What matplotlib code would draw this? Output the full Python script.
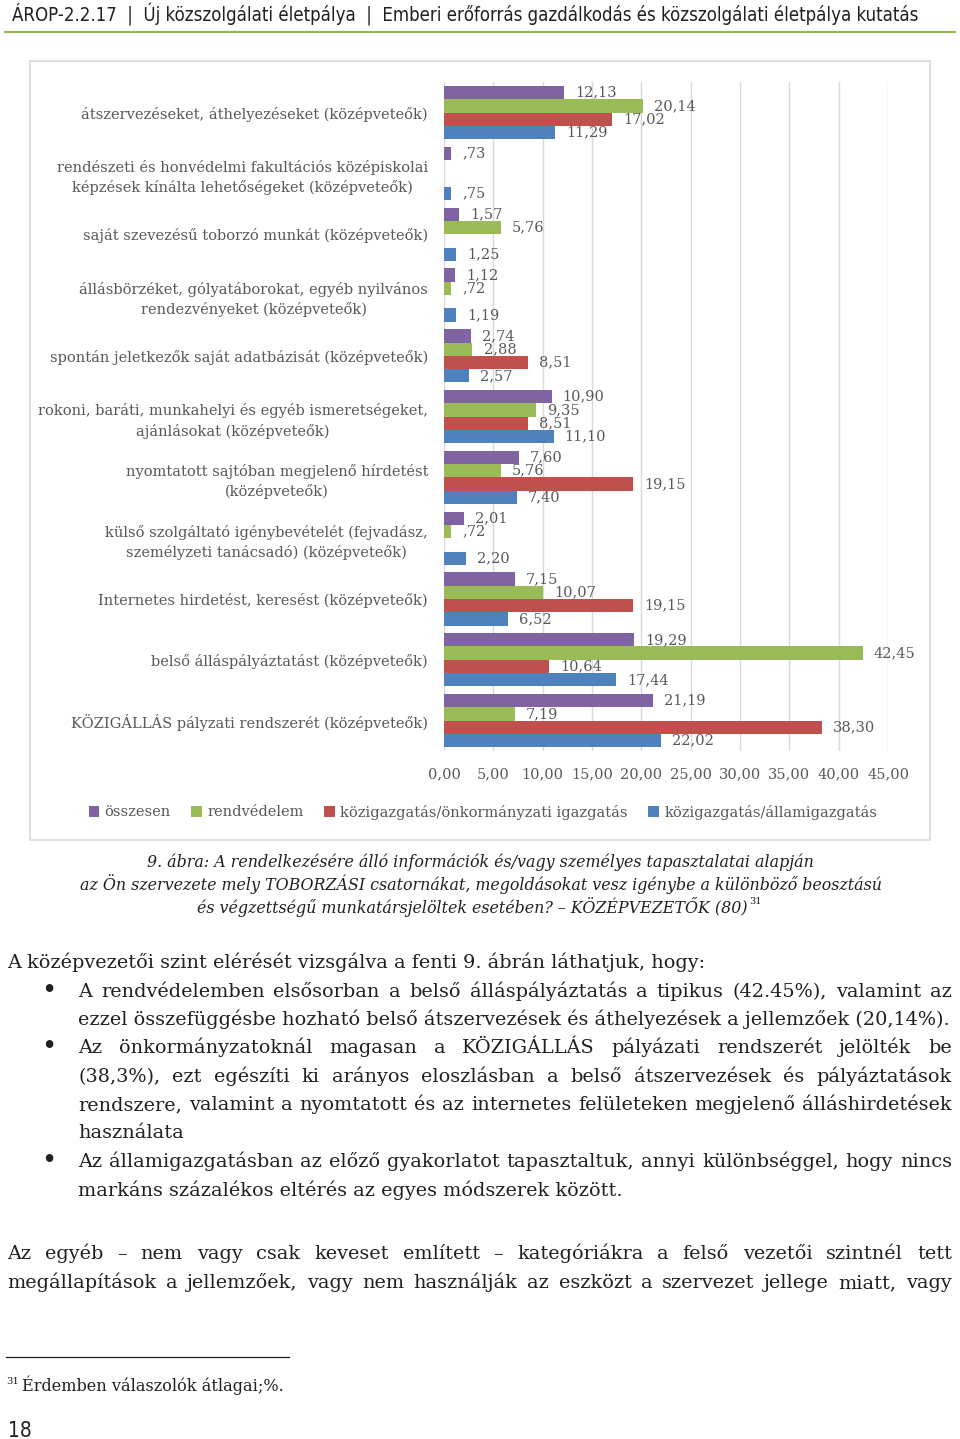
import matplotlib
matplotlib.use('Agg')
import matplotlib.pyplot as plt
from matplotlib.patches import Rectangle
from matplotlib.lines import Line2D
from matplotlib.font_manager import FontProperties, fontManager
import numpy as np

# ── data ──
categories = [
    'átszervezéseket, áthelyezéseket (középveteők)',
    'rendészeti és honvédelmi fakultációs középiskolai\nképzések kínálta lehetőségeket (középveteők)',
    'saját szevezésű toborzó munkát (középveteők)',
    'állásbörzéket, gólyatáborokat, egyéb nyilvános\nrendezvényeket (középveteők)',
    'spontán jeletkezők saját adatbázisát (középveteők)',
    'rokoni, baráti, munkahelyi és egyéb ismeretségeket,\najánlásokat (középveteők)',
    'nyomtatott sajtóban megjelenő hírdetést\n(középveteők)',
    'külső szolgáltató igénybevételét (fejvadász,\nszemélyzeti tanácsadó) (középveteők)',
    'Internetes hirdetést, keresést (középveteők)',
    'belső álláspályáztatást (középveteők)',
    'KÖZIGÁLLÁS pályzati rendszerét (középveteők)',
]
osszesen      = [12.13, 0.73, 1.57, 1.12, 2.74, 10.90, 7.60, 2.01, 7.15, 19.29, 21.19]
rendvedelem   = [20.14, 0.00, 5.76, 0.72, 2.88, 9.35, 5.76, 0.72, 10.07, 42.45, 7.19]
onkormanyzati = [17.02, 0.00, 0.00, 0.00, 8.51, 8.51, 19.15, 0.00, 19.15, 10.64, 38.30]
allam         = [11.29, 0.75, 1.25, 1.19, 2.57, 11.10, 7.40, 2.20, 6.52, 17.44, 22.02]
series_names = ['összesen', 'rendvédelem',
                'közigazgatás/önkormányzati igazgatás', 'közigazgatás/államigazgatás']
x_ticks = [0, 5, 10, 15, 20, 25, 30, 35, 40, 45]

# ── style ──
W, H = 960, 1439
SERIF = 'DejaVu Serif'
GREY = '#595959'
INK = '#231f20'
COLORS = ['#8064A2', '#9BBB59', '#C0504D', '#4F81BD']

# narrow sans for the running header, upright only
narrow = [f for f in fontManager.ttflist
          if f.name == 'Liberation Sans Narrow' and f.style == 'normal'
          and f.weight in (400, 'normal', 'regular')]
cond = [f for f in fontManager.ttflist
        if f.name == 'DejaVu Sans' and f.stretch == 'condensed'
        and f.style == 'normal' and f.weight in (400, 'normal', 'regular')]
if narrow:
    HEAD_FP = FontProperties(fname=narrow[0].fname)
elif cond:
    HEAD_FP = FontProperties(fname=cond[0].fname)
else:
    HEAD_FP = FontProperties(family='DejaVu Sans')

fig = plt.figure(figsize=(W / 100, H / 100), dpi=100)
fig.patch.set_facecolor('white')
R = fig.canvas.get_renderer()


def fx(x):
    return x / W


def fy(y):
    return 1 - y / H


def text_w(s, size, **kw):
    t = fig.text(0, 0, s, fontsize=size, **kw)
    w = t.get_window_extent(R).width
    t.remove()
    return w


def fit(s, target, **kw):
    return 10 * target / text_w(s, 10, **kw)


def put(x, y, s, size, ha='left', color=INK, **kw):
    return fig.text(fx(x), fy(y), s, fontsize=size, ha=ha, va='baseline',
                    color=color, **kw)


def justify(s, x0, x1, y, size, **kw):
    words = s.split(' ')
    ts = [put(0, y, w, size, **kw) for w in words]
    ws = [t.get_window_extent(R).width for t in ts]
    gap = (x1 - x0 - sum(ws)) / (len(words) - 1)
    x = x0
    for t, w in zip(ts, ws):
        t.set_x(fx(x))
        x += w + gap


def fmt(v):
    s = f'{v:.2f}'.replace('.', ',')
    return s[1:] if s.startswith('0') else s


# ── header ──
head = 'ÁROP-2.2.17  |  Új közszolgálati életpálya  |  Emberi erőforrás gazdálkodás és közszolgálati életpálya kutatás'
hs = fit(head, 908, fontproperties=HEAD_FP)
t = fig.text(fx(12), fy(21), head, fontproperties=HEAD_FP, color=INK, va='baseline')
t.set_fontsize(hs)
fig.add_artist(Line2D([fx(5), fx(955)], [fy(31.5), fy(31.5)],
                      color='#97B84F', lw=1.6, transform=fig.transFigure))

# ── chart frame ──
fig.add_artist(Rectangle((fx(30), fy(840)), 900 / W, 779 / H, fill=False,
                         ec='#D9D9D9', lw=1.2, transform=fig.transFigure))

cs = fit(categories[0], 347, family=SERIF)

ax = fig.add_axes([fx(444), fy(751), 444 / W, (751 - 82.25) / H])
n = len(categories)
ypos = np.arange(n)
bh = 13.33 / 60.8
for i, (vals, c, name) in enumerate(zip([osszesen, rendvedelem, onkormanyzati, allam],
                                         COLORS, series_names)):
    bars = ax.barh(ypos + (i - 1.5) * bh, vals, height=bh, color=c, label=name)
    ax.bar_label(bars, labels=[fmt(v) if v > 0 else '' for v in vals],
                 padding=8, fontsize=cs, color=GREY, family=SERIF)

ax.set_xlim(0, 45)
ax.set_ylim(n - 0.5, -0.5)
ax.set_xticks(x_ticks, [f'{t:.2f}'.replace('.', ',') for t in x_ticks])
ax.set_yticks(ypos, categories)
ax.tick_params(length=0, labelsize=cs, labelcolor=GREY)
ax.tick_params(axis='y', pad=11.5)
ax.tick_params(axis='x', pad=11.5)
for t in ax.get_xticklabels() + ax.get_yticklabels():
    t.set_family(SERIF)
for t in ax.get_yticklabels():
    t.set_multialignment('center')
    t.set_linespacing(1.45)
ax.grid(axis='x', color='#D9D9D9', lw=1)
ax.set_axisbelow(True)
for s in ax.spines.values():
    s.set_visible(False)

hnd, lab = ax.get_legend_handles_labels()
fig.legend(hnd, lab, loc='center', bbox_to_anchor=(fx(483), fy(812)), ncol=4,
           frameon=False, prop={'family': SERIF, 'size': cs}, labelcolor=GREY,
           handlelength=0.7, handleheight=0.7, handletextpad=0.4,
           columnspacing=1.4)

# ── caption ──
cap_kw = dict(family=SERIF, style='italic')
cap2 = 'az Ön szervezete mely TOBORZÁSI csatornákat, megoldásokat vesz igénybe a különböző beosztású'
ps = fit(cap2, 801, **cap_kw)
put(480, 867, '9. ábra: A rendelkezésére álló információk és/vagy személyes tapasztalatai alapján',
    ps, ha='center', **cap_kw)
put(480.5, 890, cap2, ps, ha='center', **cap_kw)
t3 = put(472.5, 913, 'és végzettségű munkatársjelöltek esetében? – KÖZÉPVEZETŐK (80)',
         ps, ha='center', **cap_kw)
x_end = t3.get_window_extent(R).x1
fig.text(fx(x_end + 1), fy(904), '31', fontsize=ps * 0.62, family=SERIF,
         color=INK, va='baseline')

# ── body text ──
bk = dict(family=SERIF)
line1 = 'A középvezetői szint elérését vizsgálva a fenti 9. ábrán láthatjuk, hogy:'
bs = fit(line1, 694, **bk)
put(7, 968, line1, bs, **bk)

L, RGT = 78, 952
for yb in (997, 1053, 1167):
    put(41, yb + 1, '•', bs * 1.35, **bk)
justify('A rendvédelemben elsősorban a belső álláspályáztatás a tipikus (42.45%), valamint az',
        L, RGT, 997, bs, **bk)
put(L, 1025, 'ezzel összefüggésbe hozható belső átszervezések és áthelyezések a jellemzőek (20,14%).',
    bs, **bk)
justify('Az önkormányzatoknál magasan a KÖZIGÁLLÁS pályázati rendszerét jelölték be',
        L, RGT, 1053, bs, **bk)
justify('(38,3%), ezt egészíti ki arányos eloszlásban a belső átszervezések és pályáztatások',
        L, RGT, 1082, bs, **bk)
justify('rendszere, valamint a nyomtatott és az internetes felületeken megjelenő álláshirdetések',
        L, RGT, 1110, bs, **bk)
put(L, 1138, 'használata', bs, **bk)
justify('Az államigazgatásban az előző gyakorlatot tapasztaltuk, annyi különbséggel, hogy nincs',
        L, RGT, 1167, bs, **bk)
put(L, 1196, 'markáns százalékos eltérés az egyes módszerek között.', bs, **bk)
justify('Az egyéb – nem vagy csak keveset említett – kategóriákra a felső vezetői szintnél tett',
        7, RGT, 1259, bs, **bk)
justify('megállapítások a jellemzőek, vagy nem használják az eszközt a szervezet jellege miatt, vagy',
        7, RGT, 1288, bs, **bk)

# ── footnote ──
fig.add_artist(Line2D([fx(6), fx(289)], [fy(1356.5), fy(1356.5)],
                      color=INK, lw=0.9, transform=fig.transFigure))
fs = fit('Érdemben válaszolók átlagai;%.', 263, **bk)
put(6, 1384, '31', fs * 0.62, **bk)
put(22, 1391, 'Érdemben válaszolók átlagai;%.', fs, **bk)

# ── page number ──
pn = fig.text(fx(8), fy(1437), '18', fontproperties=HEAD_FP, color=INK, va='baseline')
pn.set_fontsize(15)

fig.savefig('out.png', dpi=100, facecolor='white')
